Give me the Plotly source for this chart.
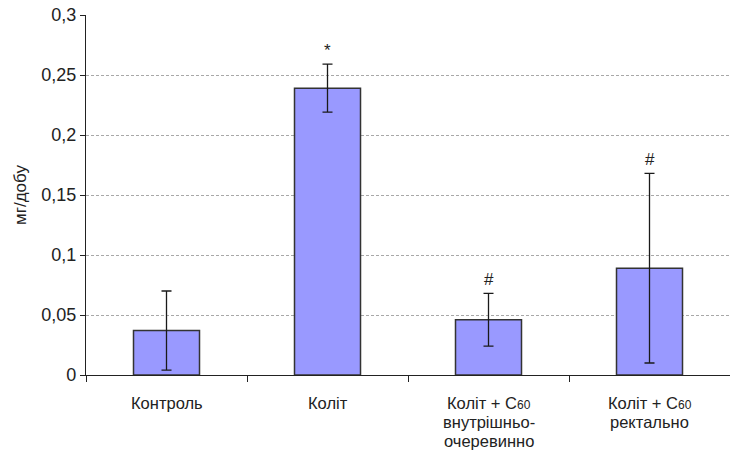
import plotly.graph_objects as go

# Groups and measured values (mg/day), mean ± error
categories = ["Контроль", "Коліт", "Коліт + C60 в/о", "Коліт + C60 рект."]
c60 = "Коліт + C<span style='font-size:12px'>60</span>"
category_lines = [
    ["Контроль"],
    ["Коліт"],
    [c60, "внутрішньо-", "очеревинно"],
    [c60, "ректально"],
]
means = [0.037, 0.239, 0.046, 0.089]
errors = [0.033, 0.020, 0.022, 0.079]
marks = ["", "*", "#", "#"]

y_ticks = [0, 0.05, 0.1, 0.15, 0.2, 0.25, 0.3]
y_tick_labels = ["0", "0,05", "0,1", "0,15", "0,2", "0,25", "0,3"]

font_family = "Arial"
text_color = "#222222"

fig = go.Figure()
fig.add_trace(go.Bar(
    x=categories,
    y=means,
    width=0.41,
    marker=dict(color="#9999FF", line=dict(color="#333333", width=1.5)),
    error_y=dict(type="data", array=errors, visible=True,
                 color="#1a1a1a", thickness=1.3, width=5),
    showlegend=False,
    hoverinfo="skip",
))

# significance marks above the error bars
for cat, m, e, s in zip(categories, means, errors, marks):
    if s:
        fig.add_annotation(
            x=cat, y=m + e, text=s, showarrow=False,
            xref="x", yref="y", yanchor="bottom", yshift=2,
            font=dict(family=font_family, size=17, color=text_color),
        )

# category labels with tight line spacing
for cat, lines in zip(categories, category_lines):
    for i, line in enumerate(lines):
        fig.add_annotation(
            x=cat, y=0, xref="x", yref="paper", text=line, showarrow=False,
            yanchor="middle", yshift=-(28 + i * 19), borderpad=0,
            font=dict(family=font_family, size=16.5, color=text_color),
        )

fig.update_layout(
    width=730, height=450,
    margin=dict(l=86, r=0, t=15, b=75),
    paper_bgcolor="white", plot_bgcolor="white",
    font=dict(family=font_family, size=18, color=text_color),
    bargap=0.59,
)

fig.update_xaxes(
    showline=True, linecolor="#222222", linewidth=1.2,
    ticks="outside", tickson="boundaries", ticklen=6,
    tickcolor="#222222", tickwidth=1,
    showticklabels=False,
    showgrid=False, fixedrange=True,
)

fig.update_yaxes(
    range=[0, 0.3],
    tickvals=y_ticks, ticktext=y_tick_labels,
    showline=True, linecolor="#222222", linewidth=1.2,
    ticks="outside", ticklen=5, tickcolor="#222222",
    tickfont=dict(family=font_family, size=18, color=text_color),
    showgrid=True, gridcolor="#a8a8a8", griddash="3px,2px", gridwidth=1,
    zeroline=False,
    title=dict(text="мг/добу", font=dict(family=font_family, size=17, color=text_color), standoff=10),
    fixedrange=True,
)

fig.write_html("out.html")
